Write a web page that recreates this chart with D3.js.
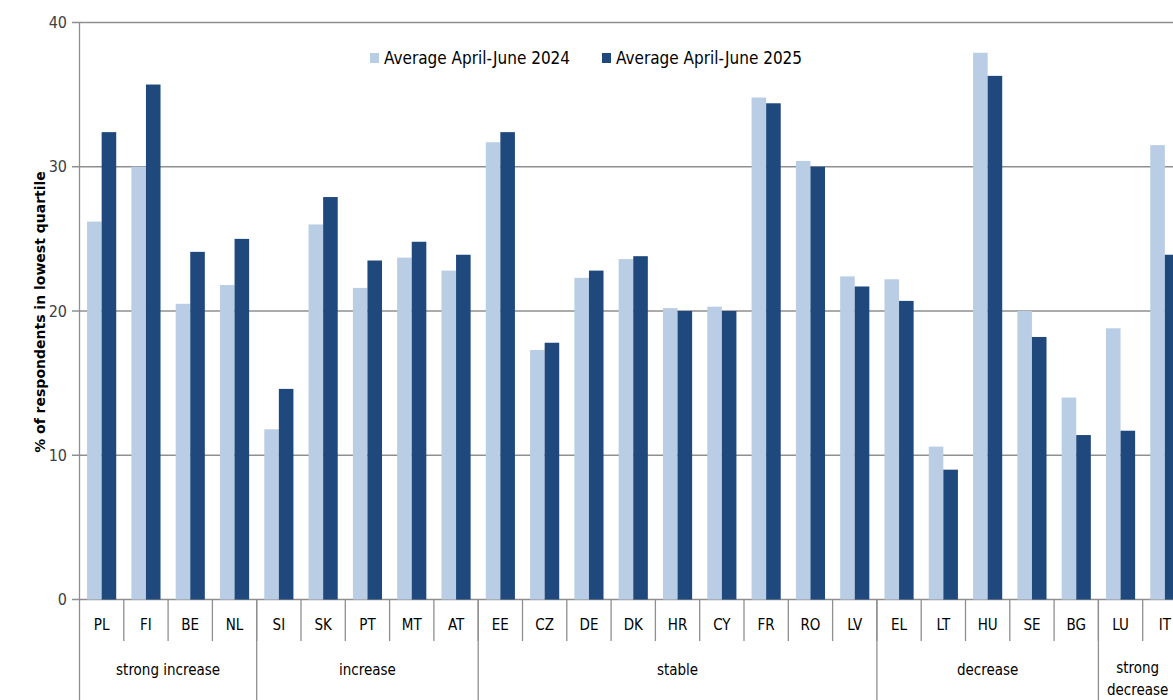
<!DOCTYPE html>
<html>
<head>
<meta charset="utf-8">
<script src="https://cdn.jsdelivr.net/npm/d3@7"></script>
<style>
  body { margin: 0; background: #fff; }
  svg { display: block; }
  .narrow { font-family: "Liberation Sans Narrow", "Arial Narrow", "DejaVu Sans Condensed", sans-serif; }
</style>
</head>
<body>
<svg></svg>
<script>

const countries = ["PL", "FI", "BE", "NL", "SI", "SK", "PT", "MT", "AT", "EE", "CZ", "DE", "DK",
    "HR", "CY", "FR", "RO", "LV", "EL", "LT", "HU", "SE", "BG", "LU", "IT"]

const avg2024 = [26.2, 30.0, 20.5, 21.8, 11.8, 26.0, 21.6, 23.7, 22.8, 31.7, 17.3, 22.3, 23.6,
    20.2, 20.3, 34.8, 30.4, 22.4, 22.2, 10.6, 37.9, 20.0, 14.0, 18.8, 31.5]

const avg2025 = [32.4, 35.7, 24.1, 25.0, 14.6, 27.9, 23.5, 24.8, 23.9, 32.4, 17.8, 22.8, 23.8,
    20.0, 20.0, 34.4, 30.0, 21.7, 20.7, 9.0, 36.3, 18.2, 11.4, 11.7, 23.9]

const seriesNames = ["Average April-June 2024", "Average April-June 2025"]

const groupNames = ["strong increase", "increase", "stable", "decrease", "strong decrease"]
const groupSizes = [4, 5, 9, 5, 2]

const yTicks = [0, 10, 20, 30, 40]

const colors = ["#b9cde5", "#1f497d"]

const width = 1173
const height = 700

const svg = d3.select("svg")
    .attr("width", width)
    .attr("height", height)

const x0 = d3.scaleBand()
    .domain(countries)
    .range([79.5, 1187])
    .paddingInner(0)
    .paddingOuter(0)

const x1 = d3.scaleBand()
    .domain(seriesNames)
    .range([0, x0.bandwidth()])
    .paddingInner(0)
    .paddingOuter(0.52)

const y = d3.scaleLinear()
    .domain([0, 40])
    .range([599.5, 22.5])

// gridlines
svg.append("g")
    .selectAll("line")
    .data(yTicks)
    .join("line")
    .attr("x1", 72)
    .attr("x2", width)
    .attr("y1", d => y(d))
    .attr("y2", d => y(d))
    .attr("stroke", "#8f8f8f")
    .attr("stroke-width", 1.3)

// y labels
svg.append("g")
    .selectAll("text")
    .data(yTicks)
    .join("text")
    .attr("class", "narrow")
    .attr("x", 67)
    .attr("y", d => y(d))
    .attr("dy", "0.35em")
    .attr("text-anchor", "end")
    .attr("font-size", 16)
    .attr("fill", "#404040")
    .text(d => d)

// y title
svg.append("text")
    .attr("transform", "translate(45, 312) rotate(-90)")
    .attr("text-anchor", "middle")
    .attr("font-family", "DejaVu Sans, sans-serif")
    .attr("font-weight", "bold")
    .attr("font-size", 14)
    .attr("fill", "#000")
    .text("% of respondents in lowest quartile")

// bars
const rows = countries.map((c, i) => ({ country: c, values: [avg2024[i], avg2025[i]] }))

svg.append("g")
    .selectAll("g")
    .data(rows)
    .join("g")
    .attr("transform", d => `translate(${x0(d.country)}, 0)`)
    .selectAll("rect")
    .data(d => d.values.map((v, i) => ({ key: seriesNames[i], value: v, i: i })))
    .join("rect")
    .attr("x", d => x1(d.key))
    .attr("width", x1.bandwidth())
    .attr("y", d => y(d.value))
    .attr("height", d => y(0) - y(d.value))
    .attr("fill", d => colors[d.i])

// left axis line
svg.append("line")
    .attr("x1", x0.range()[0])
    .attr("x2", x0.range()[0])
    .attr("y1", y(40))
    .attr("y2", height)
    .attr("stroke", "#8f8f8f")
    .attr("stroke-width", 1.3)

// category separators and labels
svg.append("g")
    .selectAll("line")
    .data(countries.slice(1))
    .join("line")
    .attr("x1", d => x0(d))
    .attr("x2", d => x0(d))
    .attr("y1", y(0))
    .attr("y2", 641)
    .attr("stroke", "#8f8f8f")
    .attr("stroke-width", 1.3)

svg.append("g")
    .selectAll("text")
    .data(countries)
    .join("text")
    .attr("class", "narrow")
    .attr("x", d => x0(d) + x0.bandwidth() / 2)
    .attr("y", 630)
    .attr("text-anchor", "middle")
    .attr("font-size", 15)
    .attr("fill", "#000")
    .text(d => d)

// groups
let start = 0
const groups = groupNames.map((g, i) => {
    const first = countries[start]
    const last = countries[start + groupSizes[i] - 1]
    start += groupSizes[i]
    return { name: g, x0: x0(first), x1: x0(last) + x0.bandwidth() }
})

svg.append("g")
    .selectAll("line")
    .data(groups.slice(1))
    .join("line")
    .attr("x1", d => d.x0)
    .attr("x2", d => d.x0)
    .attr("y1", y(0))
    .attr("y2", height)
    .attr("stroke", "#8f8f8f")
    .attr("stroke-width", 1.3)

svg.append("g")
    .selectAll("text")
    .data(groups)
    .join("text")
    .attr("class", "narrow")
    .attr("x", d => (d.x0 + d.x1) / 2 - (d.name === "strong decrease" ? 5 : 0))
    .attr("y", d => d.name === "strong decrease" ? 673 : 675)
    .attr("text-anchor", "middle")
    .attr("font-size", 15)
    .attr("fill", "#000")
    .each(function (d) {
        const t = d3.select(this)
        const words = d.name === "strong decrease" ? d.name.split(" ") : [d.name]
        words.forEach((w, k) => {
            t.append("tspan")
                .attr("x", t.attr("x"))
                .attr("dy", k === 0 ? 0 : 22)
                .text(w)
        })
    })

// legend
const legendX = [370, 602]
const legend = svg.append("g")
    .selectAll("g")
    .data(seriesNames)
    .join("g")
    .attr("transform", (d, i) => `translate(${legendX[i]}, 53)`)

legend.append("rect")
    .attr("width", 9)
    .attr("height", 10)
    .attr("fill", (d, i) => colors[i])

legend.append("text")
    .attr("class", "narrow")
    .attr("x", 14)
    .attr("y", 5)
    .attr("dy", "0.35em")
    .attr("font-size", 17)
    .attr("fill", "#000")
    .text(d => d)

</script>
</body>
</html>
